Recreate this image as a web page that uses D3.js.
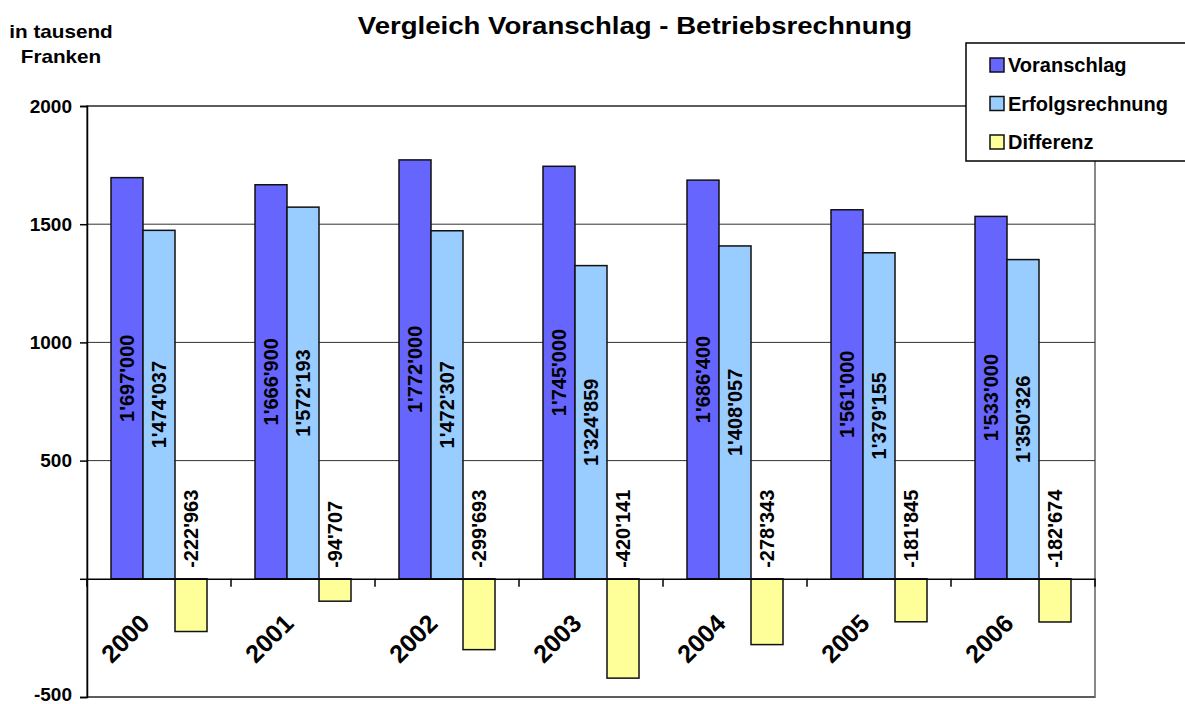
<!DOCTYPE html>
<html>
<head>
<meta charset="utf-8">
<script src="https://cdn.jsdelivr.net/npm/d3@7"></script>
<style>
  body { margin: 0; background: #fff; }
  text { font-family: "Liberation Sans", Arial, sans-serif; font-weight: bold; fill: #000; }
</style>
</head>
<body>
<div id="chart-area"></div>
<script>
// data
var years = ["2000", "2001", "2002", "2003", "2004", "2005", "2006"];
var series = ["Voranschlag", "Erfolgsrechnung", "Differenz"];
var voranschlag = [1697000, 1666900, 1772000, 1745000, 1686400, 1561000, 1533000];
var erfolgsrechnung = [1474037, 1572193, 1472307, 1324859, 1408057, 1379155, 1350326];
var differenz = [-222963, -94707, -299693, -420141, -278343, -181845, -182674];
var yTicks = [-500, 0, 500, 1000, 1500, 2000];
var colors = ["#6666ff", "#99ccff", "#ffff99"];

var width = 1185, height = 704;

var svg = d3.select("#chart-area")
    .append("svg")
    .attr("width", width)
    .attr("height", height);

var x0 = d3.scaleBand()
    .domain(years)
    .range([87, 1095]);

var x1 = d3.scaleBand()
    .domain(series)
    .range([x0.bandwidth() / 6, x0.bandwidth() * 5 / 6]);

// values in tausend Franken
var y = d3.scaleLinear()
    .domain([-500, 2000])
    .range([697, 106]);

var color = d3.scaleOrdinal().domain(series).range(colors);

var rows = [];
years.forEach(function(yr, i) {
    rows.push({ year: yr, s: "Voranschlag", v: voranschlag[i] });
    rows.push({ year: yr, s: "Erfolgsrechnung", v: erfolgsrechnung[i] });
    rows.push({ year: yr, s: "Differenz", v: differenz[i] });
});

var fmt = function(v) {
    return d3.format(",")(v).replace(/,/g, "'").replace("−", "-");
};

// plot area border
svg.append("rect")
    .attr("x", 87).attr("y", y(2000))
    .attr("width", 1095 - 87).attr("height", y(-500) - y(2000))
    .attr("fill", "none").attr("stroke", "#888").attr("stroke-width", 2);

// gridlines
svg.append("g")
    .selectAll("line")
    .data(yTicks.filter(d => d !== 0))
    .enter()
    .append("line")
    .attr("x1", 87).attr("x2", 1095)
    .attr("y1", d => y(d)).attr("y2", d => y(d))
    .attr("stroke", "#333").attr("stroke-width", 1);

// bars
svg.append("g")
    .selectAll("rect")
    .data(rows)
    .enter()
    .append("rect")
    .attr("x", d => x0(d.year) + x1(d.s))
    .attr("width", x1.bandwidth())
    .attr("y", d => y(Math.max(0, d.v / 1000)))
    .attr("height", d => Math.abs(y(d.v / 1000) - y(0)))
    .attr("fill", d => color(d.s))
    .attr("stroke", "#111")
    .attr("stroke-width", 1.5);

// bar labels
svg.append("g")
    .selectAll("text")
    .data(rows)
    .enter()
    .append("text")
    .attr("transform", function(d) {
        var cx = x0(d.year) + x1(d.s) + x1.bandwidth() / 2;
        var cy = d.v > 0 ? (y(d.v / 1000) + y(0)) / 2 : y(0) - 11;
        return "translate(" + cx + "," + cy + ") rotate(-90)";
    })
    .attr("text-anchor", d => d.v > 0 ? "middle" : "start")
    .attr("dy", "0.36em")
    .style("font-size", "20px")
    .text(d => fmt(d.v));

// y axis
var yAxis = svg.append("g")
    .attr("transform", "translate(87,0)")
    .call(d3.axisLeft(y).tickValues(yTicks).tickSize(7).tickPadding(8).tickFormat(d3.format("d")));
yAxis.select(".domain").attr("stroke", "#000").attr("stroke-width", 1.5);
yAxis.selectAll(".tick line").attr("stroke", "#000").attr("stroke-width", 1.5);
yAxis.selectAll(".tick text")
    .style("font-size", "19px")
    .style("font-family", "Liberation Sans, Arial, sans-serif")
    .attr("dy", d => d === -500 ? "0.2em" : "0.32em")
    .text(d => d === 0 ? "" : d3.format("d")(d).replace("−", "-"));

// x axis at zero
var xAxis = svg.append("g")
    .attr("transform", "translate(0," + y(0) + ")")
    .call(d3.axisBottom(x0).tickSize(0).tickFormat(""));
xAxis.select(".domain").attr("stroke", "#000").attr("stroke-width", 1.5);

svg.append("g")
    .selectAll("line")
    .data(years.concat(["end"]))
    .enter()
    .append("line")
    .attr("x1", (d, i) => x0.range()[0] + i * x0.step())
    .attr("x2", (d, i) => x0.range()[0] + i * x0.step())
    .attr("y1", y(0)).attr("y2", y(0) + 8)
    .attr("stroke", "#000").attr("stroke-width", 1.5);

svg.append("g")
    .selectAll("text")
    .data(years)
    .enter()
    .append("text")
    .attr("transform", d => "translate(" + (x0(d) + x0.bandwidth() / 2 - 8) + "," + (y(0) + 46) + ") rotate(-45)")
    .attr("text-anchor", "end")
    .style("font-size", "25px")
    .text(d => d);

// title + unit
svg.append("text")
    .attr("transform", "translate(635,34) scale(1.2,1)")
    .attr("text-anchor", "middle")
    .style("font-size", "23px")
    .text("Vergleich Voranschlag - Betriebsrechnung");

svg.append("text")
    .attr("transform", "translate(61,38) scale(1.15,1)")
    .attr("text-anchor", "middle")
    .style("font-size", "18px")
    .text("in tausend");
svg.append("text")
    .attr("transform", "translate(61,63) scale(1.15,1)")
    .attr("text-anchor", "middle")
    .style("font-size", "18px")
    .text("Franken");

// legend
var legend = svg.append("g");
legend.append("rect")
    .attr("x", 966).attr("y", 43)
    .attr("width", 230).attr("height", 118)
    .attr("fill", "#fff").attr("stroke", "#000").attr("stroke-width", 1.5);

var items = legend.selectAll("g.item")
    .data(series)
    .enter()
    .append("g")
    .attr("class", "item")
    .attr("transform", (d, i) => "translate(990," + (58 + i * 38.5) + ")");
items.append("rect")
    .attr("width", 14).attr("height", 14)
    .attr("fill", d => color(d))
    .attr("stroke", "#111").attr("stroke-width", 1.5);
items.append("text")
    .attr("x", 18).attr("y", 14)
    .style("font-size", "20px")
    .text(d => d);
</script>
</body>
</html>
